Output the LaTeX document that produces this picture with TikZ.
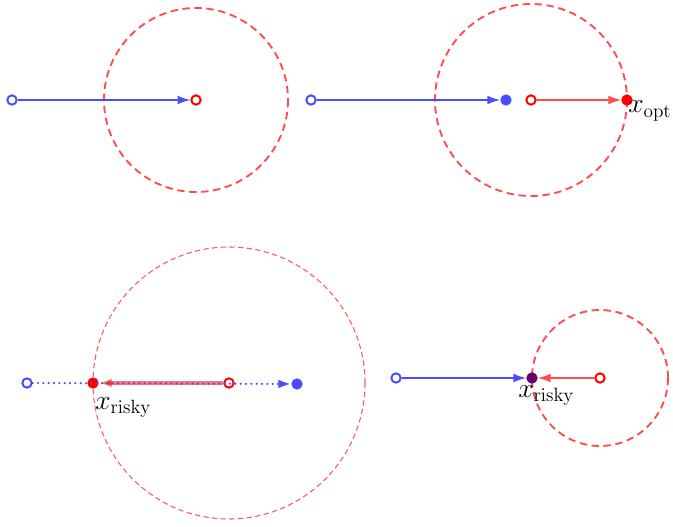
\documentclass[tikz,border=0pt]{standalone}
\usetikzlibrary{arrows.meta}

\begin{document}
\begin{tikzpicture}
    [ x=0.75pt, y=-0.75pt, >={Latex[length=9.5pt,width=6.5pt]}
    , start/.style={draw,circle,line width=1.5pt,inner sep=0pt,minimum size=7pt}
    , hit/.style={fill,circle,inner sep=0pt,minimum size=8.5pt}
    , region/.style={draw=red!70,line width=1.4pt,dash pattern=on 5.5pt off 3.5pt}
    , thinregion/.style={draw=red!65,line width=0.8pt,dash pattern=on 4pt off 2.5pt}
    , bluestep/.style={->,draw=blue!70,line width=0.9pt}
    , redstep/.style={->,draw=red!70,line width=0.9pt}
    , every node/.style={font=\huge}
    ]

    \useasboundingbox (0,0) rectangle (673,527);

    % top left
    \draw [region] (196,100) circle (92);
    \node [start, blue!70] (a0) at (12,100) {};
    \node [start, red] (a1) at (196,100) {};
    \draw [bluestep] (a0) -- (a1);

    % top right
    \draw [region] (531,100) circle (96);
    \node [start, blue!70] (b0) at (311,100) {};
    \node [hit, blue!70] (b1) at (506,100) {};
    \node [start, red] (b2) at (531,100) {};
    \node [hit, red] (b3) at (627,100) {};
    \draw [bluestep] (b0) -- (b1);
    \draw [redstep] (b2) -- (b3);
    \node [anchor=base west, inner sep=0pt] (lopt) at (628,113) {$x_{\mathrm{opt}}$};

    % bottom left
    \draw [thinregion] (229,383) circle (136);
    \node [start, blue!70] (c0) at (27,383) {};
    \node [hit, blue!70] (c1) at (297,384) {};
    \node [start, red] (c2) at (229,383) {};
    \node [hit, red] (c3) at (93,383) {};
    \draw [->, draw=red, draw opacity=0.55, fill opacity=0.55, line width=2.4pt] (c2) -- (c3);
    \draw [bluestep, line width=1.8pt, line cap=round, dash pattern=on 0pt off 4pt] (c0) -- (c1);
    \node [anchor=base west, inner sep=0pt] (lrisky) at (95,409) {$x_{\mathrm{risky}}$};

    % bottom right
    \draw [region] (600,378) circle (68);
    \node [start, blue!70] (d0) at (396,378) {};
    \node [hit, violet!80!black] (d1) at (532,378) {};
    \node [start, red] (d2) at (600,378) {};
    \draw [bluestep] (d0) -- (d1);
    \draw [redstep] (d2) -- (d1);
    \node [anchor=base west, inner sep=0pt] (lrisky2) at (518,397) {$x_{\mathrm{risky}}$};

  \end{tikzpicture}
\end{document}
